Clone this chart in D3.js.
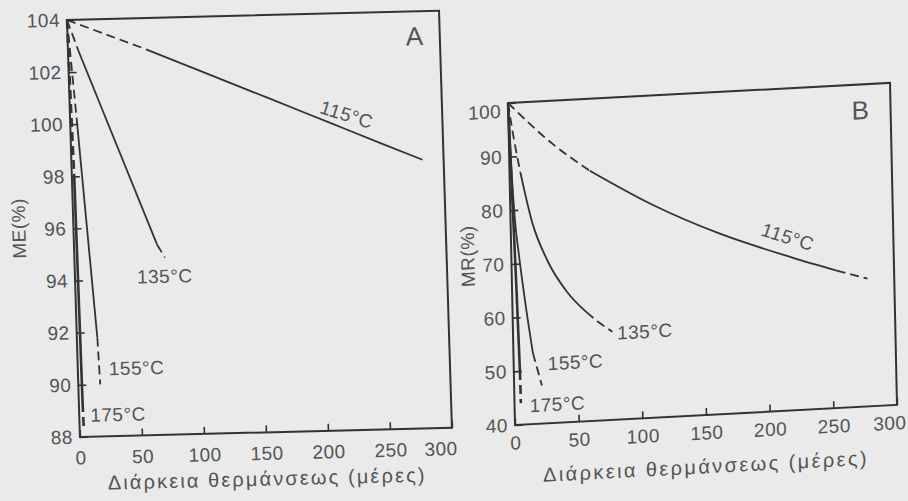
<!DOCTYPE html>
<html>
<head>
<meta charset="utf-8">
<script src="https://cdn.jsdelivr.net/npm/d3@7/dist/d3.min.js"></script>
<style>
body { margin: 0; background: #eaeaea; }
svg { display: block; }
text { font-family: "Liberation Sans", Arial, sans-serif; fill: #545454; letter-spacing: 0.5px; }
</style>
</head>
<body>
<svg id="chart" width="908" height="501"></svg>
<script>
// heating time axis (days) and value ticks
var dayTicks = [0, 50, 100, 150, 200, 250, 300];
var meTicks = [88, 90, 92, 94, 96, 98, 100, 102, 104];
var mrTicks = [40, 50, 60, 70, 80, 90, 100];
var temps = ["115°C", "135°C", "155°C", "175°C"];
var xTitle = "Διάρκεια θερμάνσεως (μέρες)";

// panel A : ME(%) , points are [day, value]
var me115 = [[0,104],[63,102.8],[106,101.92],[159,100.84],[212,99.75],[252,98.93],[283,98.3]];
var me135 = [[0,104],[8.5,102.8],[67,95.3],[73,94.8]];
var me155 = [[0,104],[5.6,100],[16.5,91.8],[17.7,90]];
var me175 = [[0,104],[1.9,98],[3,89.3],[3.3,88.3]];
// days between which the curve is solid (rest is dashed)
var me115Solid = [63, 283], me135Solid = [8.5, 67], me155Solid = [5.6, 16.5], me175Solid = [1.9, 3];

// panel B : MR(%)
var mr115 = [[0,100],[35,91.8],[63,86.6],[112,79.6],[164,73.6],[221,68.4],[255,65.6],[279,63.8]];
var mr135 = [[0,100],[2.7,95.3],[8.5,87],[17,77.5],[28,70.4],[43,64.3],[58,60.3],[68,58.2],[78,56.4]];
var mr155 = [[0,100],[1.5,88],[3.5,78],[6,71.6],[10,63],[15.3,53.2],[21.8,47.1]];
var mr175 = [[0,100],[2,80],[3.5,65],[4.8,50],[5,44]];
var mr115Solid = [63, 255], mr135Solid = [8.5, 58], mr155Solid = [0, 15.3], mr175Solid = [0, 4.8];

var svg = d3.select("#chart");

function segments(pts, solid) {
	var pre = pts.filter(function(p) { return p[0] <= solid[0]; }),
		mid = pts.filter(function(p) { return p[0] >= solid[0] && p[0] <= solid[1]; }),
		post = pts.filter(function(p) { return p[0] >= solid[1]; });
	return [
		{pts: pre, dash: true},
		{pts: mid, dash: false},
		{pts: post, dash: true}
	].filter(function(s) { return s.pts.length > 1; });
}

function panel(cfg) {
	// the scan is a little skewed, so each panel sits in a skewed frame
	var g = svg.append("g")
		.attr("transform", "matrix(1," + cfg.sy + "," + cfg.sx + ",1," + cfg.x + "," + cfg.y + ")");

	var x = d3.scaleLinear().domain([0, 300]).range([0, cfg.w]);
	var y = d3.scaleLinear().domain(cfg.yDomain).range([cfg.h, 0]);

	var yAxis = g.append("g")
		.call(d3.axisLeft(y).tickValues(cfg.yTicks).tickSize(-8).tickPadding(7));
	var xAxis = g.append("g")
		.attr("transform", "translate(0," + cfg.h + ")")
		.call(d3.axisBottom(x).tickValues(dayTicks).tickSize(-7).tickPadding(cfg.xPad));

	[yAxis, xAxis].forEach(function(a) {
		a.attr("font-size", null).attr("font-family", null);
		a.select(".domain").remove();
		a.selectAll("line").attr("stroke", "#333").attr("stroke-width", 1.6);
		a.selectAll("text").style("font-size", "19px").attr("fill", "#5a5a5a");
	});
	// last day label sits a bit left of its tick in the scan, top value label a bit low
	xAxis.selectAll("text").filter(function(d) { return d == 300; }).attr("dx", cfg.lastDx);
	yAxis.selectAll("text").filter(function(d) { return d == cfg.yDomain[1]; }).attr("y", cfg.topDy);

	g.append("rect")
		.attr("width", cfg.w)
		.attr("height", cfg.h)
		.attr("fill", "none")
		.attr("stroke", "#333")
		.attr("stroke-width", 2);

	var line = d3.line()
		.x(function(d) { return x(d[0]); })
		.y(function(d) { return y(d[1]); })
		.curve(d3.curveMonotoneX);

	cfg.series.forEach(function(s, i) {
		segments(s.pts, s.solid).forEach(function(seg) {
			g.append("path")
				.attr("d", line(seg.pts))
				.attr("fill", "none")
				.attr("stroke", "#333")
				.attr("stroke-width", i == 3 ? 2.6 : 1.8)
				.attr("stroke-dasharray", seg.dash ? "9,5" : null);
		});
	});

	// curve labels
	cfg.labels.forEach(function(l, i) {
		g.append("text")
			.attr("transform", "translate(" + l[0] + "," + l[1] + ") rotate(" + (l[2] || 0) + ")")
			.attr("text-anchor", l[2] ? "middle" : "start")
			.attr("dominant-baseline", "middle")
			.style("font-size", "19px")
			.text(temps[i]);
	});

	g.append("text")
		.attr("transform", "translate(" + cfg.yTitlePos[0] + "," + cfg.yTitlePos[1] + ") rotate(-90)")
		.attr("text-anchor", "middle")
		.attr("dominant-baseline", "middle")
		.style("font-size", "19px")
		.text(cfg.yTitle);

	g.append("text")
		.attr("x", cfg.xTitlePos[0])
		.attr("y", cfg.xTitlePos[1])
		.attr("text-anchor", "middle")
		.attr("dominant-baseline", "middle")
		.attr("textLength", cfg.xTitleLen)
		.attr("lengthAdjust", "spacing")
		.style("font-size", "20px")
		.text(xTitle);

	g.append("text")
		.attr("x", cfg.letterPos[0])
		.attr("y", cfg.letterPos[1])
		.attr("text-anchor", "middle")
		.attr("dominant-baseline", "middle")
		.style("font-size", "26px")
		.attr("fill", "#3a3a3a")
		.text(cfg.letter);
}

panel({
	x: 67, y: 20, w: 372, h: 417, sx: 0.031, sy: -0.025,
	yDomain: [88, 104], yTicks: meTicks, xPad: 14, lastDx: -12, topDy: 0,
	series: [
		{pts: me115, solid: me115Solid},
		{pts: me135, solid: me135Solid},
		{pts: me155, solid: me155Solid},
		{pts: me175, solid: me175Solid}
	],
	labels: [[276, 103, 19], [62, 260], [31, 351], [11, 397]],
	yTitle: "ME(%)", yTitlePos: [-53, 207],
	xTitlePos: [185, 465], xTitleLen: 317,
	letter: "A", letterPos: [347, 27]
});

panel({
	x: 508, y: 103, w: 382, h: 322, sx: 0.0217, sy: -0.0526,
	yDomain: [40, 100], yTicks: mrTicks, xPad: 11, lastDx: -8, topDy: 8,
	series: [
		{pts: mr115, solid: mr115Solid},
		{pts: mr135, solid: mr135Solid},
		{pts: mr155, solid: mr155Solid},
		{pts: mr175, solid: mr175Solid}
	],
	labels: [[276, 150, 20], [104, 237], [34, 264], [15, 305]],
	yTitle: "MR(%)", yTitlePos: [-42, 151],
	xTitlePos: [189, 375], xTitleLen: 324,
	letter: "B", letterPos: [352, 28]
});
</script>
</body>
</html>
